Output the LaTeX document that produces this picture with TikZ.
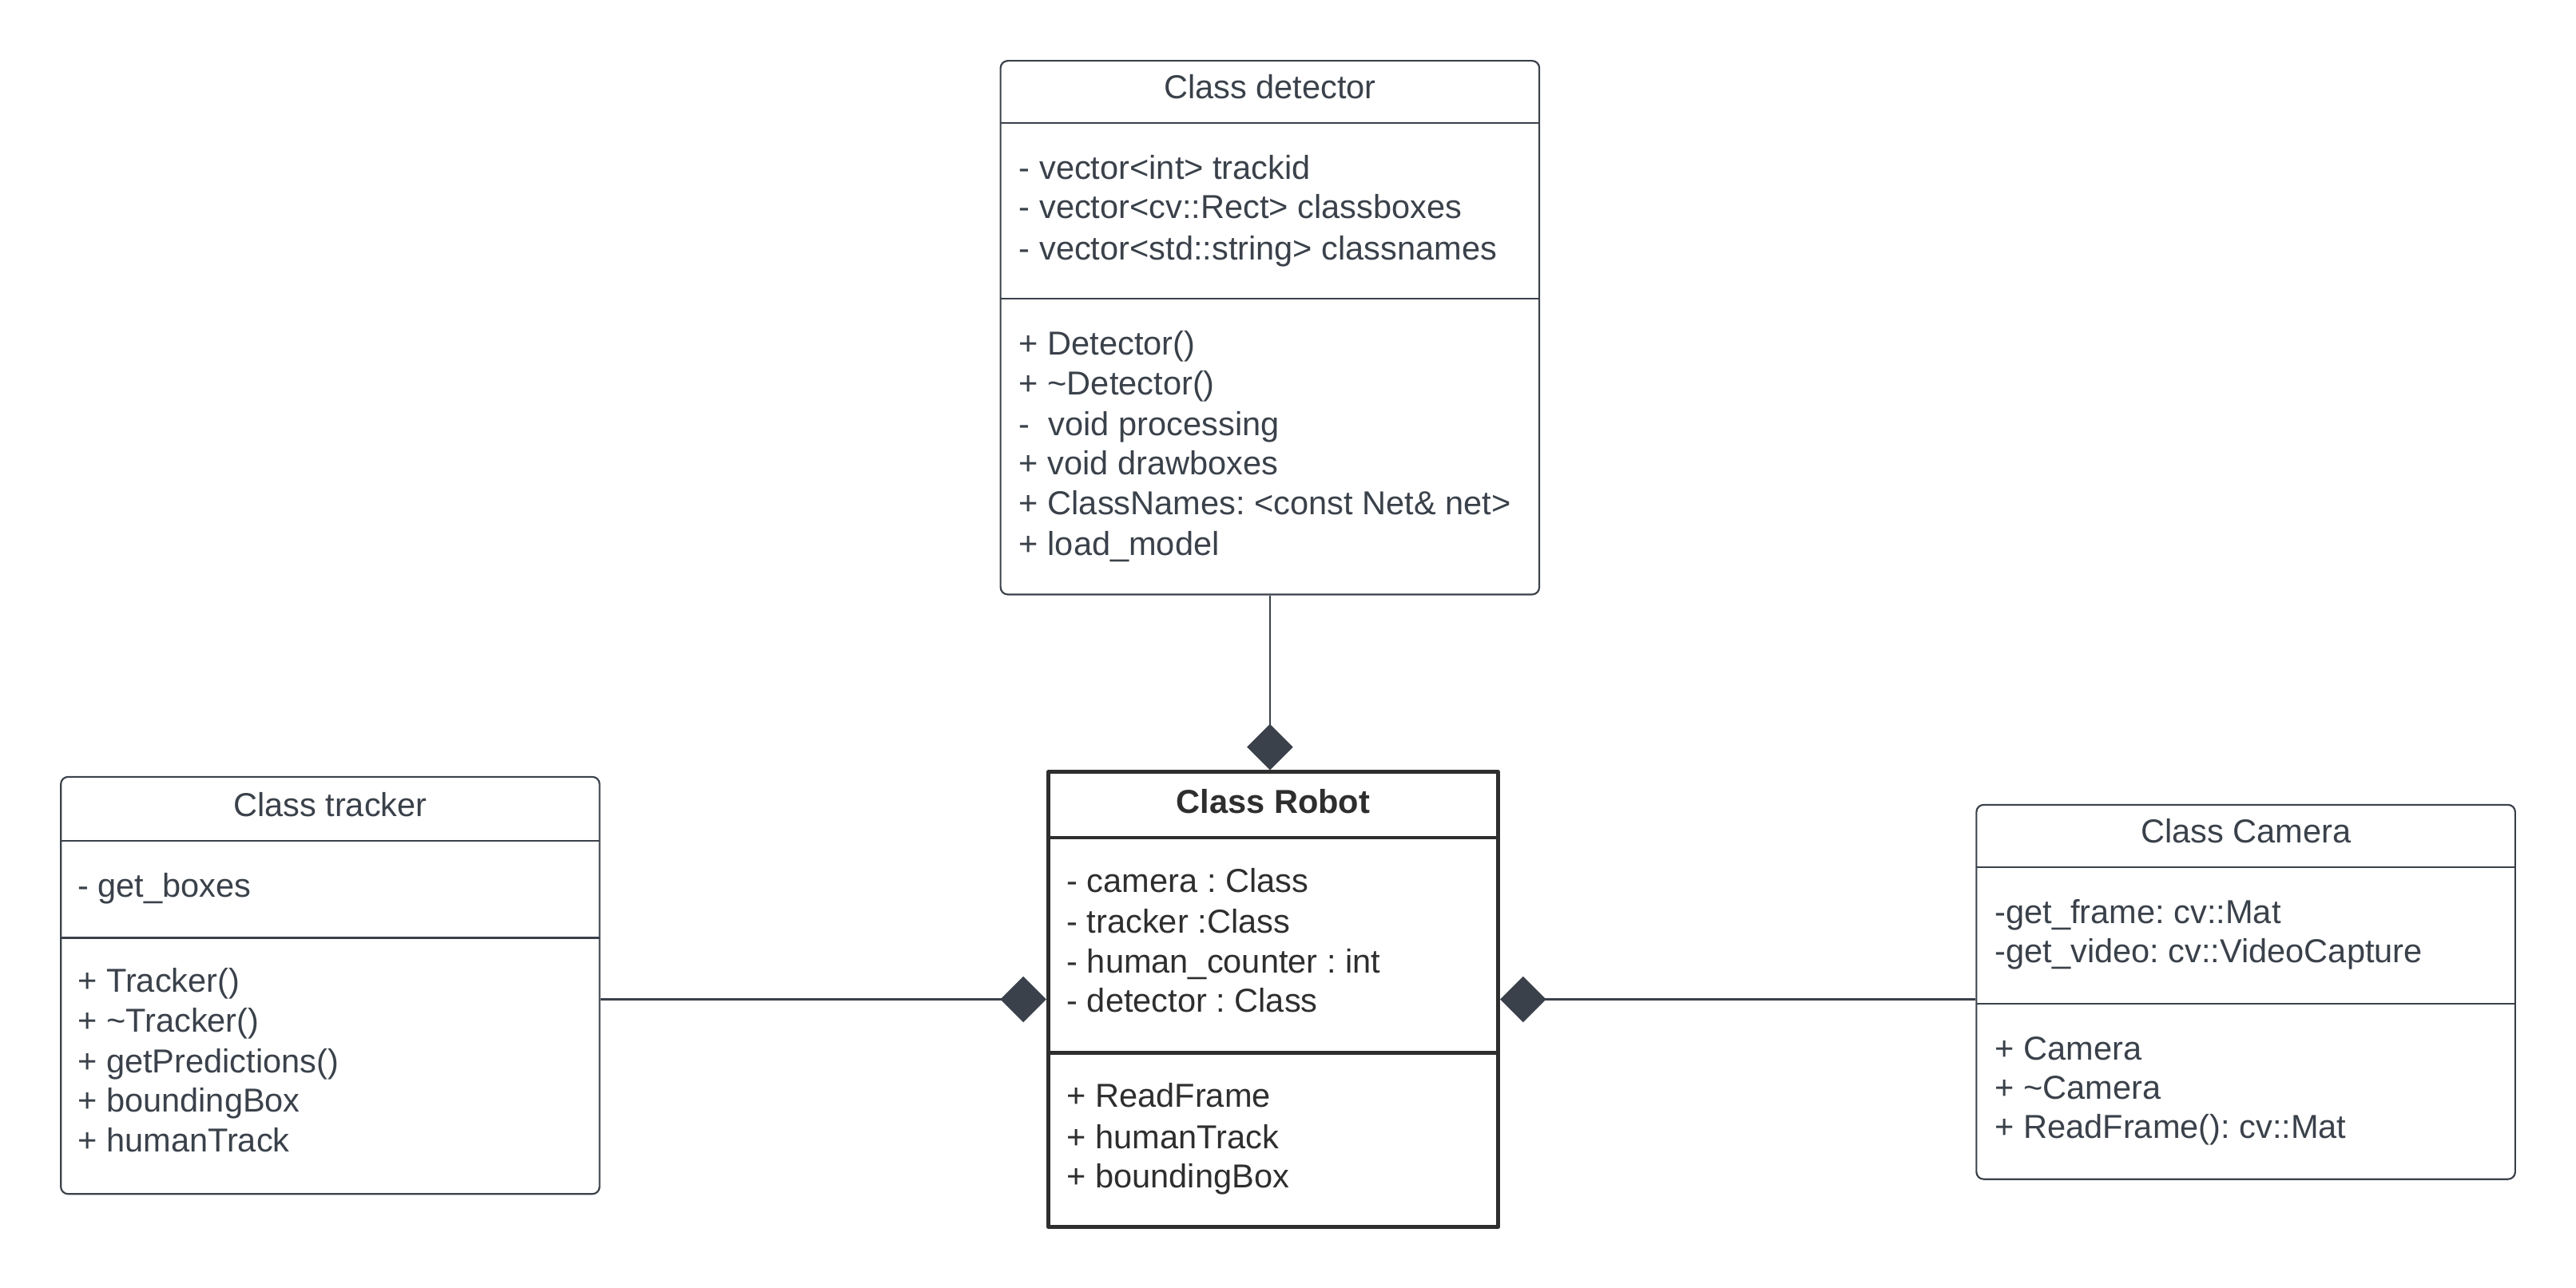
\documentclass[tikz,border=0pt]{standalone}
\usepackage{fontspec}
\setmainfont{Liberation Sans}
\usetikzlibrary{arrows.meta}
\definecolor{umlink}{HTML}{3A414A}
\definecolor{robink}{HTML}{2E2E2E}
\frenchspacing

\begin{document}
\begin{tikzpicture}[x=0.02cm,y=-0.02cm,line join=round,font=\fontsize{11.5}{13.8}\selectfont,
    classbox/.style={draw=umlink,line width=0.6pt,rounded corners=2.5pt,inner sep=0pt},
    robbox/.style={draw=robink,line width=1.3pt,inner sep=0pt},
    sep/.style={umlink,line width=0.6pt},
    title/.style={text=umlink,inner sep=0pt,text height=8.2pt,text depth=0pt},
    attr/.style={text=umlink,anchor=west,inner sep=0pt,text height=8.2pt,text depth=0pt},
    comp/.style={umlink,line width=0.6pt,-{Diamond[length=0.56cm,width=0.56cm,fill=umlink]}}]
    \useasboundingbox (0,0) rectangle (1568,784);
    % class boxes
    \node[classbox,minimum width=6.56cm,minimum height=6.5cm] (det) at (773,199.5) {};
    \node[robbox,minimum width=5.48cm,minimum height=5.54cm] (rob) at (775,608.5) {};
    \node[classbox,minimum width=6.56cm,minimum height=5.08cm] (trk) at (201,600) {};
    \node[classbox,minimum width=6.56cm,minimum height=4.56cm] (cam) at (1367,604) {};
    % compartments
    \draw[sep] (609,75)--(937,75);
    \draw[sep] (609,182)--(937,182);
    \draw[sep] (37,512)--(365,512);
    \draw[sep] (37,571)--(365,571);
    \draw[sep] (1203,528)--(1531,528);
    \draw[sep] (1203,611)--(1531,611);
    \draw[robink,line width=1.3pt] (638,510)--(912,510);
    \draw[robink,line width=1.3pt] (638,641)--(912,641);
    % titles
    \node[title] (det-t) at (773,53) {Class detector};
    \node[title] (trk-t) at (201,490) {Class tracker};
    \node[title,text=robink] (rob-t) at (775,488) {\textbf{Class Robot}};
    \node[title] (cam-t) at (1367,506) {Class Camera};
    % detector
    \foreach \y/\t in {102/{- vector<int> trackid},126/{- vector<cv::Rect> classboxes},151/{- vector<std::string> classnames}}
    \node[attr] (det-a\y) at (620,\y) {\t};
    \foreach \y/\t in {209/{+ Detector()},233/{+ \textasciitilde Detector()},258/{-\ \ void processing},282/{+ void drawboxes},306/{+ ClassNames: <const Net\& net>},331/{+ load\_model}}
    \node[attr] (det-m\y) at (620,\y) {\t};
    % tracker
    \node[attr] (trk-a) at (47,539) {- get\_boxes};
    \foreach \y/\t in {597/{+ Tracker()},621/{+ \textasciitilde Tracker()},646/{+ getPredictions()},670/{+ boundingBox},694/{+ humanTrack}}
    \node[attr] (trk-m\y) at (47,\y) {\t};
    % robot
    \foreach \y/\t in {536/{- camera : Class},561/{- tracker :Class},585/{- human\_counter : int},609/{- detector : Class}}
    \node[attr,text=robink] (rob-a\y) at (649,\y) {\t};
    \foreach \y/\t in {667/{+ ReadFrame},692/{+ humanTrack},716/{+ boundingBox}}
    \node[attr,text=robink] (rob-m\y) at (649,\y) {\t};
    % camera
    \foreach \y/\t in {555/{-get\_frame: cv::Mat},579/{-get\_video: cv::VideoCapture}}
    \node[attr] (cam-a\y) at (1214,\y) {\t};
    \foreach \y/\t in {638/{+ Camera},662/{+ \textasciitilde Camera},686/{+ ReadFrame(): cv::Mat}}
    \node[attr] (cam-m\y) at (1214,\y) {\t};
    % compositions
    \draw[comp] (det.south) -- (det.south |- rob.north);
    \draw[comp] (trk.east |- rob.west) -- (rob.west);
    \draw[comp] (cam.west |- rob.east) -- (rob.east);
\end{tikzpicture}
\end{document}
